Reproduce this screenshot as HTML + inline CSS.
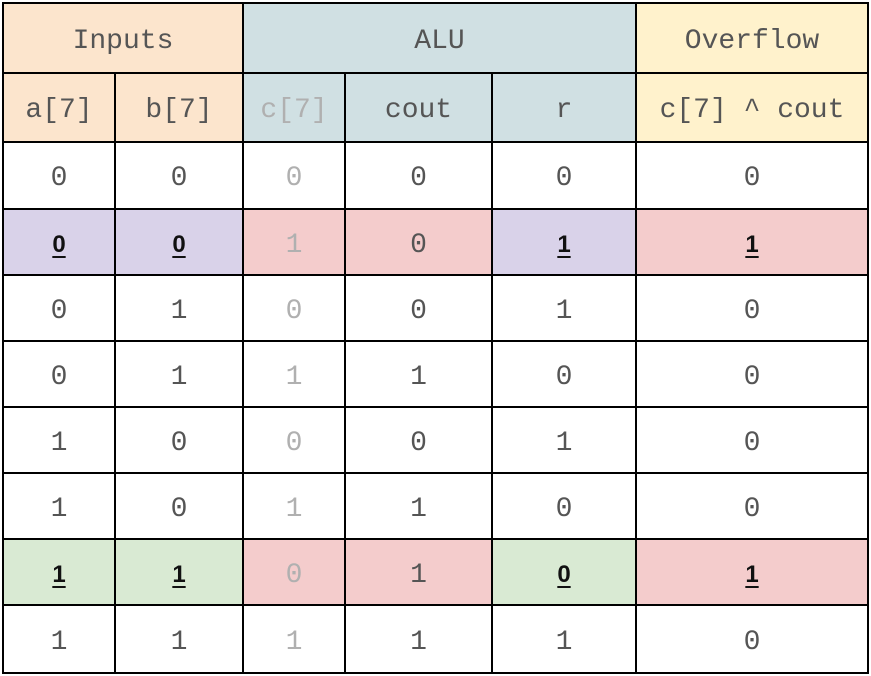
<!DOCTYPE html>
<html><head><meta charset="utf-8"><style>
body{margin:0;width:871px;height:676px;background:#fff;overflow:hidden;position:relative;font-family:"Liberation Mono",monospace;}
.c{position:absolute;box-sizing:border-box;border:2px solid #000;display:flex;align-items:center;justify-content:center;font-size:28px;color:#555;padding-top:6px;}
.g{color:#b0b0b0;}
.b{font-family:"Liberation Sans",sans-serif;font-weight:bold;text-decoration:underline;text-underline-offset:4px;color:#111;font-size:24px;}
</style></head><body>
<div id="t"></div>
<script>
const xs=[3,115,243,345,492,636,868];
const ys=[3,73,142,209,275,341,407,473,539,605,673];
const P='#fce5cd',A='#d0e0e3',Y='#fff2cc',U='#d9d2e9',R='#f4cccc',G='#d9ead3',W='#fff';
const headerRow=[[0,2,'Inputs',P,''],[2,5,'ALU',A,''],[5,6,'Overflow',Y,'']];
const subRow=[['a[7]',P,''],['b[7]',P,''],['c[7]',A,'g'],['cout',A,''],['r',A,''],['c[7] ^ cout',Y,'']];
const rows=[
['0','0','0','0','0','0'],
['0','0','1','0','1','1'],
['0','1','0','0','1','0'],
['0','1','1','1','0','0'],
['1','0','0','0','1','0'],
['1','0','1','1','0','0'],
['1','1','0','1','0','1'],
['1','1','1','1','1','0']];
const rowFill={1:[U,U,R,R,U,R],6:[G,G,R,R,G,R]};
const t=document.getElementById('t');
function cell(c0,c1,r,txt,bg,cls){
  const d=document.createElement('div');
  d.className='c '+cls;
  
  
  d.style.left=(xs[c0]-1)+'px';d.style.top=(ys[r]-1)+'px';
  d.style.width=(xs[c1]-xs[c0]+2)+'px';d.style.height=(ys[r+1]-ys[r]+2)+'px';
  d.style.background=bg;d.textContent=txt;t.appendChild(d);
}
headerRow.forEach(h=>cell(h[0],h[1],0,h[2],h[3],h[4]));
subRow.forEach((s,i)=>cell(i,i+1,1,s[0],s[1],s[2]));
rows.forEach((row,ri)=>{
  row.forEach((v,ci)=>{
    const f=rowFill[ri];
    const bg=f?f[ci]:W;
    let cls=ci==2?'g':'';
    if(f&&ci!=2&&ci!=3)cls='b';
    cell(ci,ci+1,ri+2,v,bg,cls);
  });
});
</script>
</body></html>
